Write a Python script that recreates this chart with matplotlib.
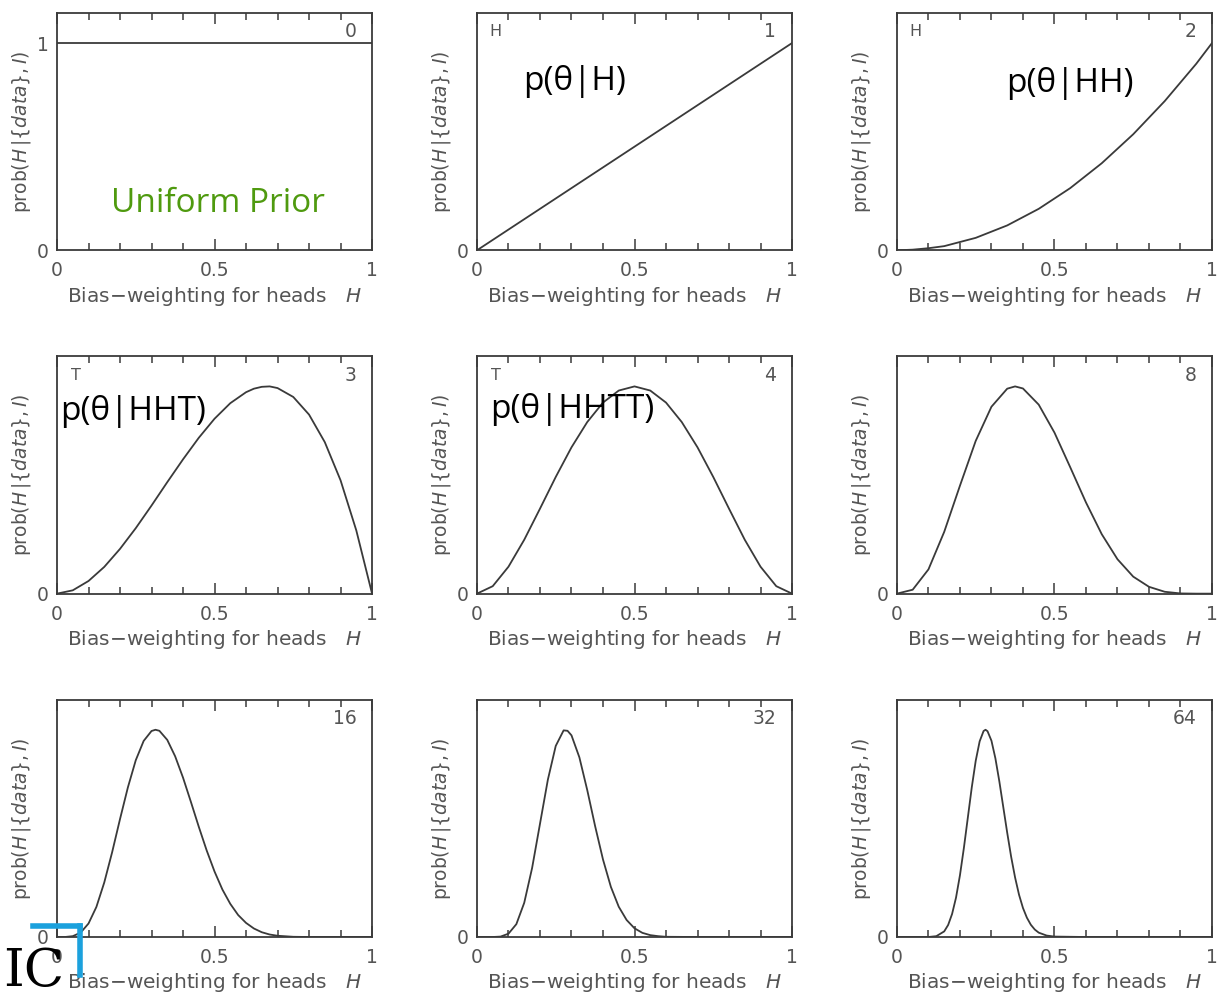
import numpy as np
import matplotlib
matplotlib.use('Agg')
import matplotlib.pyplot as plt
from matplotlib.lines import Line2D
from matplotlib.ticker import MultipleLocator, FixedLocator

# ── Data (each curve scaled to a peak of 1) ─────────────────────────────
N_TOSSES = [0, 1, 2, 3, 4, 8, 16, 32, 64]
LAST_TOSS = ["", "H", "H", "T", "T", "", "", "", ""]

X_01 = [0.0, 1.0]
X_05 = [0.0, 0.05, 0.1, 0.15, 0.2, 0.25, 0.3, 0.35, 0.4, 0.45, 0.5,
        0.55, 0.6, 0.65, 0.7, 0.75, 0.8, 0.85, 0.9, 0.95, 1.0]
X_3 = [0.0, 0.05, 0.1, 0.15, 0.2, 0.25, 0.3, 0.35, 0.4, 0.45, 0.5,
       0.55, 0.6, 0.625, 0.65, 0.675, 0.7, 0.75, 0.8, 0.85, 0.9, 0.95, 1.0]
X_8 = [0.0, 0.05, 0.1, 0.15, 0.2, 0.25, 0.3, 0.35, 0.375, 0.4, 0.45, 0.5,
       0.55, 0.6, 0.65, 0.7, 0.75, 0.8, 0.85, 0.9, 0.95, 1.0]
X_16 = [0.0, 0.025, 0.05, 0.075, 0.1, 0.125, 0.15, 0.175, 0.2, 0.225, 0.25,
        0.275, 0.3, 0.3125, 0.325, 0.35, 0.375, 0.4, 0.425, 0.45, 0.475, 0.5,
        0.525, 0.55, 0.575, 0.6, 0.625, 0.65, 0.675, 0.7, 0.75, 0.8, 0.9, 1.0]
X_32 = [0.0, 0.025, 0.05, 0.075, 0.1, 0.125, 0.15, 0.175, 0.2, 0.225, 0.25,
        0.275, 0.2875, 0.3, 0.325, 0.35, 0.375, 0.4, 0.425, 0.45, 0.475, 0.5,
        0.525, 0.55, 0.575, 0.6, 0.7, 0.8, 0.9, 1.0]
X_64 = [0.0, 0.05, 0.1, 0.125, 0.15, 0.1625, 0.175, 0.1875, 0.2, 0.2125,
        0.225, 0.2375, 0.25, 0.2625, 0.275, 0.2812, 0.2875, 0.3, 0.3125, 0.325,
        0.3375, 0.35, 0.3625, 0.375, 0.3875, 0.4, 0.4125, 0.425, 0.4375,
        0.45, 0.475, 0.5, 0.6, 0.8, 1.0]

Y_0 = [1.0, 1.0]
Y_1 = [0.0, 1.0]
Y_2 = [0.0, 0.003, 0.01, 0.02, 0.04, 0.06, 0.09, 0.12, 0.16, 0.20, 0.25,
       0.30, 0.36, 0.42, 0.49, 0.56, 0.64, 0.72, 0.81, 0.90, 1.0]
Y_3 = [0.0, 0.016, 0.061, 0.129, 0.216, 0.316, 0.425, 0.538, 0.648, 0.752,
       0.844, 0.919, 0.972, 0.989, 0.998, 1.0, 0.992, 0.949, 0.864, 0.731,
       0.547, 0.305, 0.0]
Y_4 = [0.0, 0.036, 0.130, 0.260, 0.410, 0.563, 0.706, 0.828, 0.922, 0.980,
       1.0, 0.980, 0.922, 0.828, 0.706, 0.563, 0.410, 0.260, 0.130, 0.036, 0.0]
Y_8 = [0.0, 0.019, 0.117, 0.298, 0.521, 0.737, 0.902, 0.989, 1.0, 0.990,
       0.912, 0.777, 0.610, 0.440, 0.287, 0.166, 0.082, 0.033, 0.009, 0.001,
       0.0, 0.0]
Y_16 = [0.0, 0.0, 0.004, 0.021, 0.065, 0.145, 0.263, 0.409, 0.569, 0.722,
        0.853, 0.946, 0.994, 1.0, 0.995, 0.951, 0.872, 0.769, 0.652, 0.532,
        0.418, 0.316, 0.229, 0.160, 0.106, 0.068, 0.041, 0.023, 0.012, 0.006,
        0.001, 0.0, 0.0, 0.0]
Y_32 = [0.0, 0.0, 0.0, 0.002, 0.016, 0.062, 0.165, 0.333, 0.546, 0.759,
        0.922, 0.997, 0.995, 0.973, 0.867, 0.709, 0.535, 0.374, 0.242, 0.146,
        0.082, 0.042, 0.020, 0.009, 0.004, 0.001, 0.0, 0.0, 0.0, 0.0]
Y_64 = [0.0, 0.0, 0.0, 0.004, 0.027, 0.058, 0.111, 0.190, 0.298, 0.430,
        0.576, 0.722, 0.850, 0.944, 0.994, 1.0, 0.993, 0.947, 0.862, 0.751,
        0.627, 0.503, 0.387, 0.287, 0.204, 0.140, 0.093, 0.059, 0.036,
        0.021, 0.007, 0.002, 0.0, 0.0, 0.0]

CURVES = [(X_01, Y_0), (X_01, Y_1), (X_05, Y_2),
          (X_3, Y_3), (X_05, Y_4), (X_8, Y_8),
          (X_16, Y_16), (X_32, Y_32), (X_64, Y_64)]

# slide annotations: (text, x px, baseline y px, colour)
NOTES = [
    ("Uniform Prior", 111, 212, "#4f9a0f"),
    ("p(θ|H)", 523, 90, "black"),
    ("p(θ|HH)", 1006, 92, "black"),
    ("p(θ|HHT)", 60, 420, "black"),
    ("p(θ|HHTT)", 490, 418, "black"),
]

W, H = 1231, 998
INK = "#3a3a3a"
GREY = "#555555"

fig, axes = plt.subplots(3, 3, figsize=(W / 100, H / 100), dpi=100)
fig.patch.set_facecolor("white")
fig.subplots_adjust(left=57 / W, right=1212 / W, top=1 - 13 / H,
                    bottom=1 - 937 / H, wspace=0.333, hspace=0.447)

for i, ax in enumerate(axes.flat):
    xs, ys = CURVES[i]
    ax.plot(xs, ys, color=INK, linewidth=1.3)
    ax.set_xlim(0, 1)
    ax.set_ylim(0, 1.145)

    ax.xaxis.set_major_locator(FixedLocator([0, 0.5, 1]))
    ax.xaxis.set_major_formatter(plt.FuncFormatter(lambda v, p: f"{v:g}"))
    ax.xaxis.set_minor_locator(MultipleLocator(0.1))
    ax.tick_params(axis="x", which="both", direction="in", top=True,
                   colors=INK, labelcolor=GREY, labelsize=13.5, pad=8)
    ax.tick_params(axis="x", which="major", length=8, width=1.1)
    ax.tick_params(axis="x", which="minor", length=5, width=1.1)
    ax.set_yticks([0, 1] if i == 0 else [0])
    ax.tick_params(axis="y", length=0, labelcolor=GREY, labelsize=13.5, pad=6)

    for sp in ax.spines.values():
        sp.set_color(INK)
        sp.set_linewidth(1.3)

    ax.set_xlabel("Bias\u2212weighting for heads   $H$", fontsize=14.5,
                  color=GREY, labelpad=3)
    ax.set_ylabel(r"prob($H\,|\{data\},I$)", fontsize=13.5, color=GREY,
                  labelpad=3)

    ax.text(0.95, 0.92, str(N_TOSSES[i]), transform=ax.transAxes,
            ha="right", va="center", fontsize=13.5, color=GREY)
    if LAST_TOSS[i]:
        ax.text(0.06, 0.92, LAST_TOSS[i], transform=ax.transAxes,
                ha="center", va="center", fontsize=11.5, color=GREY)

for txt, px, py, col in NOTES:
    fig.text(px / W, 1 - py / H, txt, fontsize=24, color=col,
             family=["Open Sans", "DejaVu Sans"], va="baseline", ha="left")

# logo in the bottom-left corner
fig.text(3 / W, 1 - 986 / H, "IC", fontsize=38, family="DejaVu Serif",
         color="black", va="baseline", ha="left")
fig.add_artist(Line2D([33 / W, 80 / W], [1 - 926 / H, 1 - 926 / H],
                      transform=fig.transFigure, color="#1ba1dd", linewidth=4))
fig.add_artist(Line2D([80 / W, 80 / W], [1 - 926 / H, 1 - 975 / H],
                      transform=fig.transFigure, color="#1ba1dd", linewidth=4))

fig.savefig("out.png", dpi=100, facecolor="white")
